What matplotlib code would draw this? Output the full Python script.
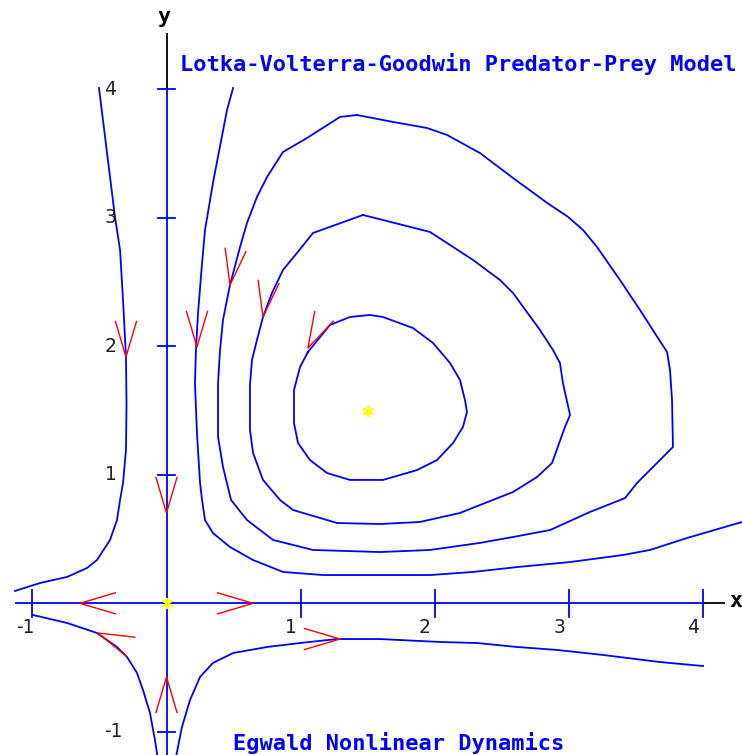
import numpy as np
import matplotlib
matplotlib.use("Agg")
import matplotlib.pyplot as plt

# Phase-plane trajectories (x = prey, y = predator)
traj_a_x = [-0.503, -0.384, -0.346, -0.324, -0.302, -0.298, -0.302, -0.324, -0.346, -0.369, -0.421, -0.518, -0.592, -0.741, -0.943, -1.129]
traj_a_y = [4.010, 3.007, 2.749, 2.360, 1.917, 1.550, 1.193, 0.936, 0.804, 0.648, 0.493, 0.337, 0.275, 0.205, 0.158, 0.096]

traj_g_x = [-0.995, -0.741, -0.518, -0.369, -0.294, -0.220, -0.175, -0.123, -0.086, -0.066]
traj_g_y = [-0.091, -0.153, -0.231, -0.340, -0.418, -0.542, -0.675, -0.854, -1.064, -1.200]

traj_f_x = [0.070, 0.115, 0.175, 0.250, 0.346, 0.496, 0.749, 0.995, 1.271, 1.591, 2.038, 2.314, 2.612, 2.910, 3.253, 3.677, 3.998]
traj_f_y = [-1.200, -0.963, -0.753, -0.573, -0.464, -0.387, -0.340, -0.309, -0.278, -0.278, -0.301, -0.309, -0.340, -0.363, -0.402, -0.457, -0.488]

traj_b_x = [0.496, 0.451, 0.346, 0.287, 0.265, 0.235, 0.220, 0.212, 0.227, 0.250, 0.265, 0.287, 0.346, 0.473, 0.645, 0.868, 1.166, 1.963, 2.284, 2.612, 3.007, 3.402, 3.603, 3.878, 4.289]
traj_b_y = [4.010, 3.839, 3.271, 2.905, 2.648, 2.259, 1.987, 1.714, 1.325, 0.936, 0.804, 0.648, 0.547, 0.438, 0.337, 0.244, 0.220, 0.220, 0.244, 0.282, 0.321, 0.376, 0.415, 0.508, 0.633]

cycle_outer_x = [1.419, 1.293, 1.047, 0.868, 0.749, 0.674, 0.600, 0.548, 0.473, 0.421, 0.399, 0.384, 0.384, 0.421, 0.481,
                 0.600, 0.794, 1.092, 1.591, 1.963, 2.336, 2.582, 2.858, 3.156, 3.417, 3.506, 3.677, 3.774, 3.767,
                 3.752, 3.730, 3.662, 3.528, 3.379, 3.208, 3.104, 2.992, 2.835, 2.582, 2.336, 2.090, 1.941, 1.688, 1.419]
cycle_outer_y = [3.800, 3.785, 3.621, 3.512, 3.317, 3.162, 2.960, 2.773, 2.477, 2.205, 1.971, 1.714, 1.295, 1.061, 0.804,
                 0.648, 0.493, 0.415, 0.399, 0.415, 0.470, 0.516, 0.570, 0.711, 0.819, 0.936, 1.115, 1.217, 1.582,
                 1.816, 1.956, 2.065, 2.283, 2.516, 2.773, 2.905, 3.007, 3.117, 3.310, 3.504, 3.645, 3.699, 3.746, 3.800]

cycle_mid_x = [1.464, 1.196, 1.092, 0.972, 0.868, 0.786, 0.719, 0.674, 0.637, 0.622, 0.622, 0.645, 0.719, 0.846, 0.943,
               1.271, 1.591, 1.889, 2.187, 2.336, 2.582, 2.761, 2.873, 2.969, 3.007, 2.954, 2.932, 2.880, 2.783,
               2.582, 2.485, 2.284, 2.090, 1.963, 1.613, 1.464]
cycle_mid_y = [3.022, 2.921, 2.882, 2.726, 2.594, 2.415, 2.228, 2.049, 1.893, 1.699, 1.349, 1.170, 0.960, 0.804, 0.726,
               0.625, 0.617, 0.633, 0.703, 0.765, 0.866, 0.983, 1.092, 1.372, 1.466, 1.714, 1.870, 1.971, 2.127,
               2.415, 2.516, 2.672, 2.804, 2.890, 2.983, 3.022]

cycle_inner_x = [1.054, 1.218, 1.367, 1.516, 1.613, 1.837, 1.986, 2.113, 2.187, 2.224, 2.239, 2.209, 2.136, 2.016,
                 1.867, 1.613, 1.367, 1.196, 1.069, 0.980, 0.950, 0.950, 0.995, 1.054]
cycle_inner_y = [1.956, 2.166, 2.228, 2.244, 2.228, 2.142, 2.026, 1.870, 1.738, 1.582, 1.489, 1.372, 1.248, 1.115,
                 1.037, 0.960, 0.960, 1.014, 1.115, 1.248, 1.403, 1.660, 1.839, 1.956]

# Direction arrowheads: tip position and heading of motion (degrees)
arrow_x = [-0.302, 0.227, 0.473, 0.719, 1.054, 0.0, 0.0, -0.645, 0.645, -0.510, 1.293]
arrow_y = [1.917, 1.995, 2.477, 2.228, 1.987, 0.703, -0.573, 0.0, 0.0, -0.231, -0.278]
arrow_heading = [-90, -90, -99, -99, -117, -90, 90, 180, 0, 157, 0]

# Equilibrium points
equil_x = [0.0, 1.5]
equil_y = [0.0, 1.5]

x_ticks = [-1, 1, 2, 3, 4]
y_ticks = [-1, 1, 2, 3, 4]

W, H = 742, 755
fig = plt.figure(figsize=(W / 100, H / 100), dpi=100)
ax = fig.add_axes([0, 0, 1, 1])
xlim = (-1.2407, 4.2884)
ylim = (-1.1805, 4.695)
ax.set_xlim(*xlim)
ax.set_ylim(*ylim)
ax.axis("off")

blue = "#0000ff"
red = "#ff0000"

# coordinate axes
ax.plot([-1.129, 4.0], [0, 0], color=blue, lw=1.3, solid_capstyle="butt")
ax.plot([4.0, 4.16], [0, 0], color="black", lw=1.3, solid_capstyle="butt")
ax.plot([0, 0], [-1.25, 4.0], color=blue, lw=1.3, solid_capstyle="butt")
ax.plot([0, 0], [4.0, 4.438], color="black", lw=1.3, solid_capstyle="butt")
for t in x_ticks:
    ax.plot([t, t], [-0.105, 0.105], color=blue, lw=1.3)
for t in y_ticks:
    ax.plot([-0.06, 0.06], [t, t], color=blue, lw=1.3)

lab_kw = dict(fontsize=13.5, color="#222222", family="DejaVu Sans")
for t in x_ticks:
    ax.text(t - 0.118, -0.19, f"{t}" if t > 0 else "-1", ha="left", va="center", **lab_kw)
for t in y_ticks:
    ax.text(-0.462, t, f"{t}" if t > 0 else "-1", ha="left", va="center", **lab_kw)

# trajectories
for xs, ys in [(traj_a_x, traj_a_y), (traj_g_x, traj_g_y), (traj_f_x, traj_f_y),
               (traj_b_x, traj_b_y), (cycle_outer_x, cycle_outer_y),
               (cycle_mid_x, cycle_mid_y), (cycle_inner_x, cycle_inner_y)]:
    ax.plot(xs, ys, color=blue, lw=1.3)

# arrowheads, sized in pixels
sx = W / (xlim[1] - xlim[0])
sy = H / (ylim[1] - ylim[0])
head_len = 37.0
half = 16.5
for x, y, h in zip(arrow_x, arrow_y, arrow_heading):
    a1 = np.radians(h + 180 + half)
    a2 = np.radians(h + 180 - half)
    xs = [x + head_len * np.cos(a1) / sx, x, x + head_len * np.cos(a2) / sx]
    ys = [y + head_len * np.sin(a1) / sy, y, y + head_len * np.sin(a2) / sy]
    ax.plot(xs, ys, color=red, lw=1.0)

ax.plot(equil_x, equil_y, linestyle="none", marker=(6, 2, 0), markersize=8,
        markeredgecolor="#ffff00", markeredgewidth=1.4, zorder=5)

# titles and axis names
mono = dict(family="DejaVu Sans Mono", weight="bold")
fig.text(180 / W, 1 - 64 / H, "Lotka-Volterra-Goodwin Predator-Prey Model",
         color=blue, fontsize=15.8, ha="left", va="center", **mono)
fig.text(233 / W, 1 - 743 / H, "Egwald Nonlinear Dynamics",
         color=blue, fontsize=15.8, ha="left", va="center", **mono)
fig.text(164 / W, 1 - 17 / H, "y", color="black", fontsize=15.5, ha="center", va="center", **mono)
fig.text(729 / W, 1 - 601 / H, "x", color="black", fontsize=15.5, ha="left", va="center", **mono)

fig.savefig("out.png", dpi=100, facecolor="white")
